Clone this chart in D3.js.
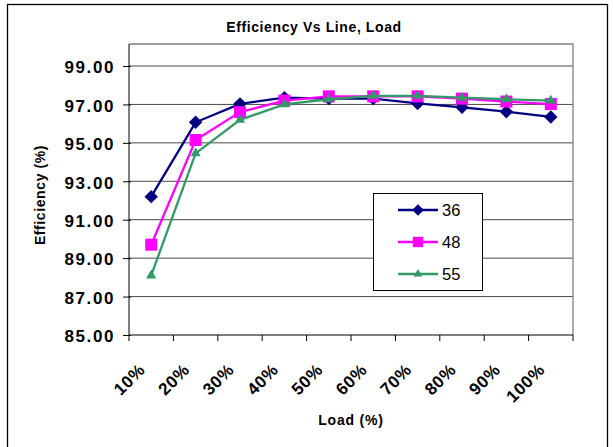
<!DOCTYPE html>
<html><head><meta charset="utf-8">
<script src="https://cdn.jsdelivr.net/npm/d3@7"></script>
<style>body{margin:0;background:#fff}svg{display:block}text{font-family:Arial,"Liberation Sans",sans-serif}</style>
</head><body><svg id="c" width="613" height="447"></svg>
<script>
const categories = ["10%","20%","30%","40%","50%","60%","70%","80%","90%","100%"];
const seriesNames = ["36","48","55"];
const v36 = [92.2,96.07,97.03,97.35,97.3,97.3,97.05,96.85,96.62,96.35];
const v48 = [89.7,95.15,96.6,97.2,97.42,97.42,97.42,97.3,97.15,97.02];
const v55 = [88.1,94.45,96.2,97.0,97.27,97.45,97.45,97.35,97.27,97.2];
const yTicks = [85,87,89,91,93,95,97,99];
const colors = ["#000080","#FF00FF","#339966"];

const allSeries = [v36, v48, v55];
const markers = [
  {type:d3.symbolSquare,size:90,rot:45},
  {type:d3.symbolSquare,size:144,rot:0},
  {type:d3.symbolTriangle,size:45,rot:0}
];

const svg = d3.select("#c");
svg.append("rect").attr("x",7.5).attr("y",4.5).attr("width",600).attr("height",450)
  .attr("fill","#fff").attr("stroke","#000").attr("stroke-width",1.3);

const L=129, R=573, T=44, B=335;
const x = d3.scaleBand().domain(categories).range([L,R]);
const y = d3.scaleLinear().domain([85,99]).range([B,66]);

// gridlines
svg.append("g").selectAll("line").data(yTicks.slice(1)).join("line")
  .attr("x1",L).attr("x2",R).attr("y1",d=>y(d)).attr("y2",d=>y(d))
  .attr("stroke","#4a4a4a").attr("stroke-width",1);
// plot border top/right
svg.append("path").attr("d",`M${L},${T}H${R}V${B}`).attr("fill","none").attr("stroke","#808080").attr("stroke-width",1.3);

// y axis
const ya = svg.append("g").attr("transform",`translate(${L},0)`)
  .call(d3.axisLeft(y).tickValues(yTicks).tickFormat(d3.format(".2f")).tickSize(6).tickPadding(8));
ya.select(".domain").attr("d",`M0,${T}V${B}`).attr("stroke","#000");
ya.selectAll(".tick line").attr("x2",2).attr("x1",-6).attr("stroke","#000");
ya.selectAll("text").style("font-size","17px").style("font-weight","bold").attr("fill","#000")
  .style("letter-spacing","1.6px").attr("dy","0.4em");

// x axis
const xa = svg.append("g").attr("transform",`translate(0,${B})`)
  .call(d3.axisBottom(x).tickSize(0).tickPadding(0));
xa.select(".domain").attr("d",`M${L},0H${R}`).attr("stroke","#000");
xa.selectAll(".tick text").style("font-size","17px").style("font-weight","bold").attr("fill","#000")
  .style("letter-spacing","0.6px")
  .attr("text-anchor","end").attr("dy",0)
  .attr("transform","translate(-5,36) rotate(-45)");
xa.append("g").selectAll("line").data(categories.concat(["end"])).join("line")
  .attr("x1",(d,i)=>L+i*x.bandwidth()).attr("x2",(d,i)=>L+i*x.bandwidth())
  .attr("y1",0).attr("y2",6).attr("stroke","#000");

// lines
const cx = (i)=>x(categories[i])+x.bandwidth()/2;
const line = d3.line().x((d,i)=>cx(i)).y(d=>y(d));
allSeries.forEach((s,k)=>{
  const g = svg.append("g");
  g.append("path").datum(s).attr("d",line).attr("fill","none").attr("stroke",colors[k]).attr("stroke-width",2.3);
  g.selectAll("path.m").data(s).join("path").attr("class","m")
    .attr("d",d3.symbol().type(markers[k].type).size(markers[k].size))
    .attr("transform",(d,i)=>`translate(${cx(i)},${y(d)}) rotate(${markers[k].rot})`)
    .attr("fill",colors[k]);
});

// legend
const lg = svg.append("g");
lg.append("rect").attr("x",373.5).attr("y",193.5).attr("width",109).attr("height",97)
  .attr("fill","#fff").attr("stroke","#000").attr("stroke-width",1);
seriesNames.forEach((n,k)=>{
  const yy = 210 + k*32;
  lg.append("line").attr("x1",398).attr("x2",438).attr("y1",yy).attr("y2",yy).attr("stroke",colors[k]).attr("stroke-width",2.3);
  lg.append("path").attr("d",d3.symbol().type(markers[k].type).size(markers[k].size*0.75))
    .attr("transform",`translate(418,${yy}) rotate(${markers[k].rot})`).attr("fill",colors[k]);
  lg.append("text").attr("x",442).attr("y",yy+6).attr("font-size",16.5).text(n);
});

// titles
svg.append("text").attr("x",314).attr("y",32).attr("text-anchor","middle").attr("font-size",14).style("letter-spacing","0.6px").attr("font-weight","bold").text("Efficiency Vs Line, Load");
svg.append("text").attr("transform","translate(45,195) rotate(-90)").attr("text-anchor","middle").attr("font-size",14).style("letter-spacing","0.6px").attr("font-weight","bold").text("Efficiency (%)");
svg.append("text").attr("x",351).attr("y",425).attr("text-anchor","middle").attr("font-size",14).style("letter-spacing","0.8px").attr("font-weight","bold").text("Load (%)");
</script></body></html>
